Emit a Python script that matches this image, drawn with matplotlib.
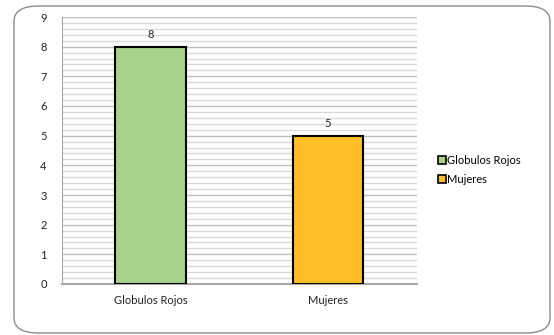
import matplotlib
matplotlib.use("Agg")
import matplotlib.pyplot as plt
from matplotlib.patches import FancyBboxPatch, Patch
from matplotlib.ticker import MultipleLocator

categories = ["Globulos Rojos", "Mujeres"]
values = [8, 5]
colors = ["#A9D18E", "#FEBF29"]
yticks = list(range(0, 10))

plt.rcParams['font.family'] = ['Lato', 'DejaVu Sans']

fig = plt.figure(figsize=(5.54, 3.35), dpi=100)
fig.patch.set_facecolor("white")

border = FancyBboxPatch((14/554, 2/335), 536/554, 327/335,
                        boxstyle="round,pad=0,rounding_size=0.045",
                        transform=fig.transFigure, facecolor="none",
                        edgecolor="#8C8C8C", linewidth=1.0, zorder=-1)
fig.patches.append(border)

ax = fig.add_axes([62/554, 51/335, 354.7/554, 267/335])
ax.set_facecolor("none")
x = list(range(len(categories)))
bars = ax.bar(x, values, width=0.4, color=colors, edgecolor="black", linewidth=1.5, zorder=3)
for xi, v in zip(x, values):
    ax.text(xi, v + 0.22, str(v), ha="center", va="bottom", fontsize=8, color="#222222", zorder=4)

ax.set_xlim(-0.5, 1.5)
ax.set_ylim(0, 9)
ax.set_yticks(yticks)
ax.yaxis.set_minor_locator(MultipleLocator(0.2))
ax.grid(True, which="major", axis="y", color="#BFBFBF", linewidth=1.0, zorder=0)
ax.grid(True, which="minor", axis="y", color="#D9D9D9", linewidth=1.0, zorder=0)
ax.set_axisbelow(True)
ax.set_xticks(x)
ax.set_xticklabels(categories, fontsize=8, color="#222222")
ax.tick_params(axis="x", length=0, pad=8)
ax.tick_params(axis="y", which="both", length=0, pad=11, labelsize=8, labelcolor="#222222")
for s in ["top", "right"]:
    ax.spines[s].set_visible(False)
ax.spines["left"].set_color("#A6A6A6")
ax.spines["bottom"].set_color("#A6A6A6")
ax.spines["bottom"].set_linewidth(1.5)

handles = [Patch(facecolor=c, edgecolor="black", linewidth=1.2) for c in colors]
fig.legend(handles, categories, loc="center left", bbox_to_anchor=(428/554, (335-170)/335),
           frameon=False, fontsize=8, handlelength=0.7, handleheight=0.7,
           handletextpad=0.15, labelspacing=0.75)

fig.savefig("out.png", dpi=100, facecolor="white")
